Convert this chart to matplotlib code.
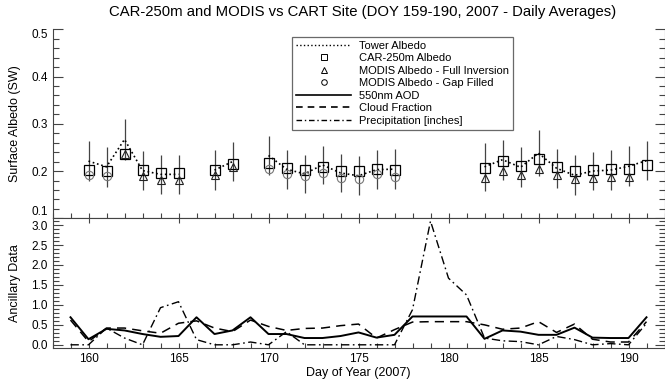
import numpy as np
import matplotlib
matplotlib.use("Agg")
import matplotlib.pyplot as plt
from matplotlib.ticker import MultipleLocator, FormatStrFormatter
from matplotlib.lines import Line2D

plt.rcParams['font.family'] = ['Liberation Sans', 'DejaVu Sans']

nan = np.nan

# day of year, 2007
days = np.arange(159, 192)

# surface albedo (SW) -- nan where no retrieval
tower = [nan, 0.221, 0.209, 0.267, 0.201, 0.193, 0.193, nan, 0.202, 0.220, nan,
         0.233, 0.204, 0.194, 0.213, 0.196, 0.190, 0.203, 0.204, nan, nan, nan, nan,
         0.209, 0.224, 0.208, 0.238, 0.206, 0.191, 0.200, 0.202, 0.210, 0.222]
tower_err = [nan, 0.042, 0.042, 0.044, 0.042, 0.041, 0.041, nan, 0.042, 0.041, nan,
             0.042, 0.041, 0.041, 0.041, 0.041, 0.041, 0.041, 0.043, nan, nan, nan, nan,
             0.051, 0.042, 0.042, 0.049, 0.041, 0.042, 0.041, 0.042, 0.042, 0.041]
car250 = [nan, 0.203, 0.200, 0.236, 0.202, 0.196, 0.196, nan, 0.203, 0.215, nan,
          0.217, 0.207, 0.203, 0.209, 0.200, 0.200, 0.205, 0.202, nan, nan, nan, nan,
          0.207, 0.221, 0.210, 0.226, 0.208, 0.200, 0.203, 0.205, 0.205, 0.212]
modis_full = [nan, nan, nan, 0.236, 0.189, 0.182, 0.182, nan, 0.191, 0.208, nan,
              nan, nan, nan, nan, nan, nan, nan, nan, nan, nan, nan, nan,
              0.186, 0.200, 0.191, 0.205, 0.191, 0.184, 0.186, 0.188, 0.188, nan]
modis_gap = [nan, 0.191, 0.189, nan, nan, nan, nan, nan, nan, nan, nan,
             0.205, 0.193, 0.189, 0.196, 0.186, 0.184, 0.193, 0.188, nan, nan, nan, nan,
             nan, nan, nan, nan, nan, nan, nan, nan, nan, nan]
albedo_ticks = [0.1, 0.2, 0.3, 0.4, 0.5]

# ancillary data
aod = [0.69, 0.14, 0.40, 0.36, 0.27, 0.20, 0.22, 0.69, 0.27, 0.36, 0.69,
       0.27, 0.27, 0.17, 0.17, 0.22, 0.31, 0.18, 0.25, 0.71, 0.71, 0.71, 0.71,
       0.15, 0.36, 0.33, 0.25, 0.25, 0.43, 0.18, 0.17, 0.17, 0.69]
cloud = [0.62, 0.08, 0.42, 0.42, 0.35, 0.29, 0.54, 0.60, 0.42, 0.33, 0.62,
         0.46, 0.36, 0.41, 0.42, 0.48, 0.52, 0.17, 0.38, 0.57, 0.58, 0.58, 0.58,
         0.50, 0.39, 0.42, 0.58, 0.31, 0.52, 0.14, 0.07, 0.07, 0.58]
precip = [0.0, 0.0, 0.42, 0.17, 0.0, 0.93, 1.08, 0.13, 0.0, 0.0, 0.07,
          0.0, 0.33, 0.0, 0.0, 0.0, 0.0, 0.0, 0.0, 0.88, 3.10, 1.67, 1.25,
          0.17, 0.10, 0.08, 0.0, 0.21, 0.13, 0.0, 0.03, 0.0, 0.54]

W, H = 665, 385
fig = plt.figure(figsize=(W / 100, H / 100), dpi=100)
x0, x1 = 52.5, 664.5
ax1 = fig.add_axes([x0 / W, 1 - 218.3 / H, (x1 - x0) / W, (218.3 - 29.3) / H])
ax2 = fig.add_axes([x0 / W, 1 - 348 / H, (x1 - x0) / W, (348 - 218.3) / H])

# top panel
ax1.errorbar(days, tower, yerr=tower_err, fmt='none', ecolor='#444444',
             elinewidth=0.9, capsize=0, zorder=2)
ax1.plot(days, tower, ls=':', color='black', lw=1.2, zorder=3)
ax1.plot(days, car250, ls='none', marker='s', ms=6.5, mfc='none', mec='black',
         mew=0.9, zorder=4)
ax1.plot(days, modis_full, ls='none', marker='^', ms=6, mfc='none', mec='#222222',
         mew=0.8, zorder=4)
ax1.plot(days, modis_gap, ls='none', marker='o', ms=6, mfc='none', mec='#777777',
         mew=0.8, zorder=4)
ax1.set_ylim(0.1, 0.5)
ax1.set_yticks(albedo_ticks)
ax1.yaxis.set_minor_locator(MultipleLocator(0.02))
ax1.yaxis.set_major_formatter(FormatStrFormatter('%.1f'))
ax1.spines['top'].set_visible(False)
ax1.tick_params(axis='x', labelbottom=False, top=False)
ax1.set_ylabel('Surface Albedo (SW)', fontsize=9)

# bottom panel
ax2.plot(days, aod, ls='-', color='black', lw=1.4)
ax2.plot(days, cloud, ls=(0, (6, 4)), color='black', lw=1.1)
ax2.plot(days, precip, ls=(0, (6, 2.5, 1.2, 2.5)), color='black', lw=1.0)
ax2.set_ylim(-0.08, 3.17)
ax2.yaxis.set_major_locator(MultipleLocator(0.5))
ax2.yaxis.set_minor_locator(MultipleLocator(0.1))
ax2.yaxis.set_major_formatter(FormatStrFormatter('%.1f'))
ax2.xaxis.set_major_locator(MultipleLocator(5))
ax2.set_ylabel('Ancillary Data', fontsize=9)
ax2.set_xlabel('Day of Year (2007)', fontsize=9)

for ax in (ax1, ax2):
    ax.set_xlim(158, 192)
    ax.xaxis.set_minor_locator(MultipleLocator(1))
    ax.tick_params(which='both', direction='in', right=True, labelsize=8.5,
                   color='#444444', width=0.8)
    ax.tick_params(axis='x', top=True)
    ax.tick_params(axis='y', which='major', length=7)
    ax.tick_params(axis='y', which='minor', length=4)
    ax.tick_params(axis='x', which='both', length=3.5)
    for s in ax.spines.values():
        s.set_linewidth(0.8)
        s.set_color('#444444')
    ax.yaxis.set_label_coords(-0.052, 0.5)
ax1.tick_params(axis='x', which='both', top=False)
ax2.xaxis.set_label_coords(0.5, -0.145)

# keep the end labels of the albedo axis inside the panel
ylabs = ax1.get_yticklabels()
ylabs[0].set_va('bottom')
ylabs[-1].set_va('top')

fig.text(363 / W, 1 - 12 / H, 'CAR-250m and MODIS vs CART Site (DOY 159-190, 2007 - Daily Averages)',
         ha='center', va='center', fontsize=10.7)

handles = [
    Line2D([], [], ls=':', color='black', lw=1.0),
    Line2D([], [], ls='none', marker='s', ms=4, mfc='none', mec='black', mew=0.7),
    Line2D([], [], ls='none', marker='^', ms=4, mfc='none', mec='black', mew=0.7),
    Line2D([], [], ls='none', marker='o', ms=4, mfc='none', mec='black', mew=0.7),
    Line2D([], [], ls='-', color='black', lw=1.2),
    Line2D([], [], ls=(0, (4, 3)), color='black', lw=1.2),
    Line2D([], [], ls=(0, (4, 2, 1, 2)), color='black', lw=1.0),
]
labels = ['Tower Albedo', 'CAR-250m Albedo', 'MODIS Albedo - Full Inversion',
          'MODIS Albedo - Gap Filled', '550nm AOD', 'Cloud Fraction',
          'Precipitation [inches]']
leg = fig.legend(handles, labels, loc='upper left',
                 bbox_to_anchor=(292 / W, 1 - 36.7 / H), fontsize=8,
                 frameon=True, fancybox=False, edgecolor='#444444',
                 handlelength=5.0, handletextpad=0.7, labelspacing=0.23,
                 borderpad=0.35, borderaxespad=0)
leg.get_frame().set_linewidth(0.9)

fig.savefig('out.png', dpi=100)
